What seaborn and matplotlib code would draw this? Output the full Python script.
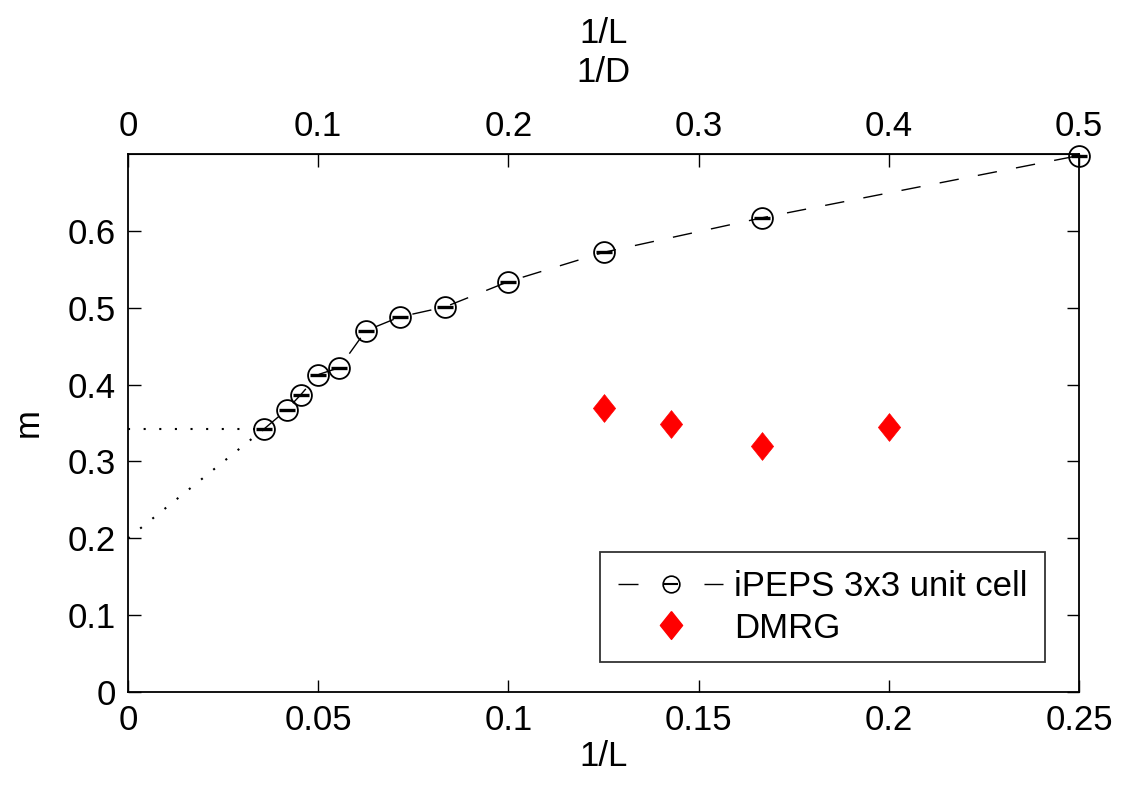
import matplotlib
matplotlib.use("Agg")
import matplotlib.pyplot as plt
import seaborn as sns
import numpy as np
import pandas as pd
from matplotlib.lines import Line2D
from matplotlib.legend_handler import HandlerTuple

# iPEPS data (x = 1/L bottom axis; 1/D on top axis = 2/L)
ipeps_x = [0.25, 1/6, 0.125, 0.1, 1/12, 1/14, 1/16, 1/18, 0.05, 1/22, 1/24, 1/28]
ipeps_m = [0.698, 0.617, 0.572, 0.534, 0.501, 0.488, 0.470, 0.422, 0.413, 0.387, 0.367, 0.342]

# DMRG data
dmrg_x = [0.125, 1/7, 1/6, 0.2]
dmrg_m = [0.369, 0.349, 0.320, 0.345]

# extrapolation guides
extrap_x = [0.0, 1/28]
extrap_lin_m = [0.200, 0.342]
extrap_const_m = [0.342, 0.342]

xticks_bottom = [0, 0.05, 0.1, 0.15, 0.2, 0.25]
yticks = [0, 0.1, 0.2, 0.3, 0.4, 0.5, 0.6]
xticks_top = [0, 0.1, 0.2, 0.3, 0.4, 0.5]

sns.set_style("ticks")
plt.rcParams['font.family'] = ['Liberation Sans', 'DejaVu Sans']
for k in ['text.color', 'axes.labelcolor', 'xtick.color', 'ytick.color', 'axes.edgecolor']:
    plt.rcParams[k] = 'black'

FS = 25
fig = plt.figure(figsize=(11.26, 7.85), dpi=100)
ax = fig.add_axes([128/1126, 1 - 692/785, (1079-128)/1126, (692-154)/785])

df_ipeps = pd.DataFrame({"x": ipeps_x, "m": ipeps_m})
df_dmrg = pd.DataFrame({"x": dmrg_x, "m": dmrg_m})

# dotted extrapolation lines
ax.plot(extrap_x, extrap_const_m, color='black', lw=1.5, linestyle=(0, (1, 6.5)))
ax.plot(extrap_x, extrap_lin_m, color='black', lw=1.5, linestyle=(0, (1, 6.5)))

sns.lineplot(data=df_ipeps, x="x", y="m", ax=ax, color='black', lw=1.0,
             linestyle=(0, (14, 14)), marker='o', markersize=15,
             markerfacecolor='none', markeredgecolor='black', markeredgewidth=1.3,
             sort=True, legend=False, clip_on=False)
sns.scatterplot(data=df_ipeps, x="x", y="m", ax=ax, marker='_', s=120,
                color='black', linewidth=2.4, legend=False, zorder=4, clip_on=False)

diamond = [(0, 1), (0.8, 0), (0, -1), (-0.8, 0), (0, 1)]
sns.scatterplot(data=df_dmrg, x="x", y="m", ax=ax, marker=diamond, s=400,
                color='red', edgecolor='red', linewidth=0.5, legend=False, zorder=5)

ax.set_xlim(0, 0.25)
ax.set_ylim(0, 0.7)
ax.set_xticks(xticks_bottom)
ax.set_xticklabels([f"{v:g}" for v in xticks_bottom])
ax.set_yticks(yticks)
ax.set_yticklabels([f"{v:g}" for v in yticks])
ax.tick_params(direction='in', length=9, width=1, labelsize=FS, right=True, top=False, pad=9)
for s in ax.spines.values():
    s.set_visible(True)
    s.set_linewidth(1.3)
    s.set_color('black')

ax.set_xlabel("1/L", fontsize=FS, labelpad=2)
ax.set_ylabel("m", fontsize=FS, labelpad=16)

sec = ax.secondary_xaxis('top', functions=(lambda x: 2*x, lambda x: x/2))
sec.set_xticks(xticks_top)
sec.set_xticklabels([f"{v:g}" for v in xticks_top])
sec.tick_params(direction='in', length=9, width=1, labelsize=FS, pad=8)
sec.set_xlabel("1/L\n1/D", fontsize=FS, labelpad=20, linespacing=1.25)

h_line = Line2D([], [], color='black', lw=1.0, linestyle=(0, (14.4, 47.5)))
h_mark = Line2D([], [], color='black', marker='o', markersize=12, lw=0,
                markerfacecolor='none', markeredgewidth=1.2)
h_bar = Line2D([], [], color='black', marker='_', markersize=10, lw=0,
               markeredgewidth=1.5)
h_dmrg = Line2D([], [], color='red', marker=diamond, markersize=20, lw=0)
leg = ax.legend([(h_line, h_mark, h_bar), h_dmrg],
                ["iPEPS 3x3 unit cell", "DMRG"],
                handler_map={tuple: HandlerTuple(ndivide=1, pad=0)},
                loc='lower right', bbox_to_anchor=(0.964, 0.056),
                fontsize=FS, frameon=True, fancybox=False, edgecolor='black',
                handlelength=3.05, handletextpad=0.3, borderpad=0.5, labelspacing=0.25,
                borderaxespad=0)
leg.get_frame().set_linewidth(1.3)

fig.savefig("out.png", dpi=100)
